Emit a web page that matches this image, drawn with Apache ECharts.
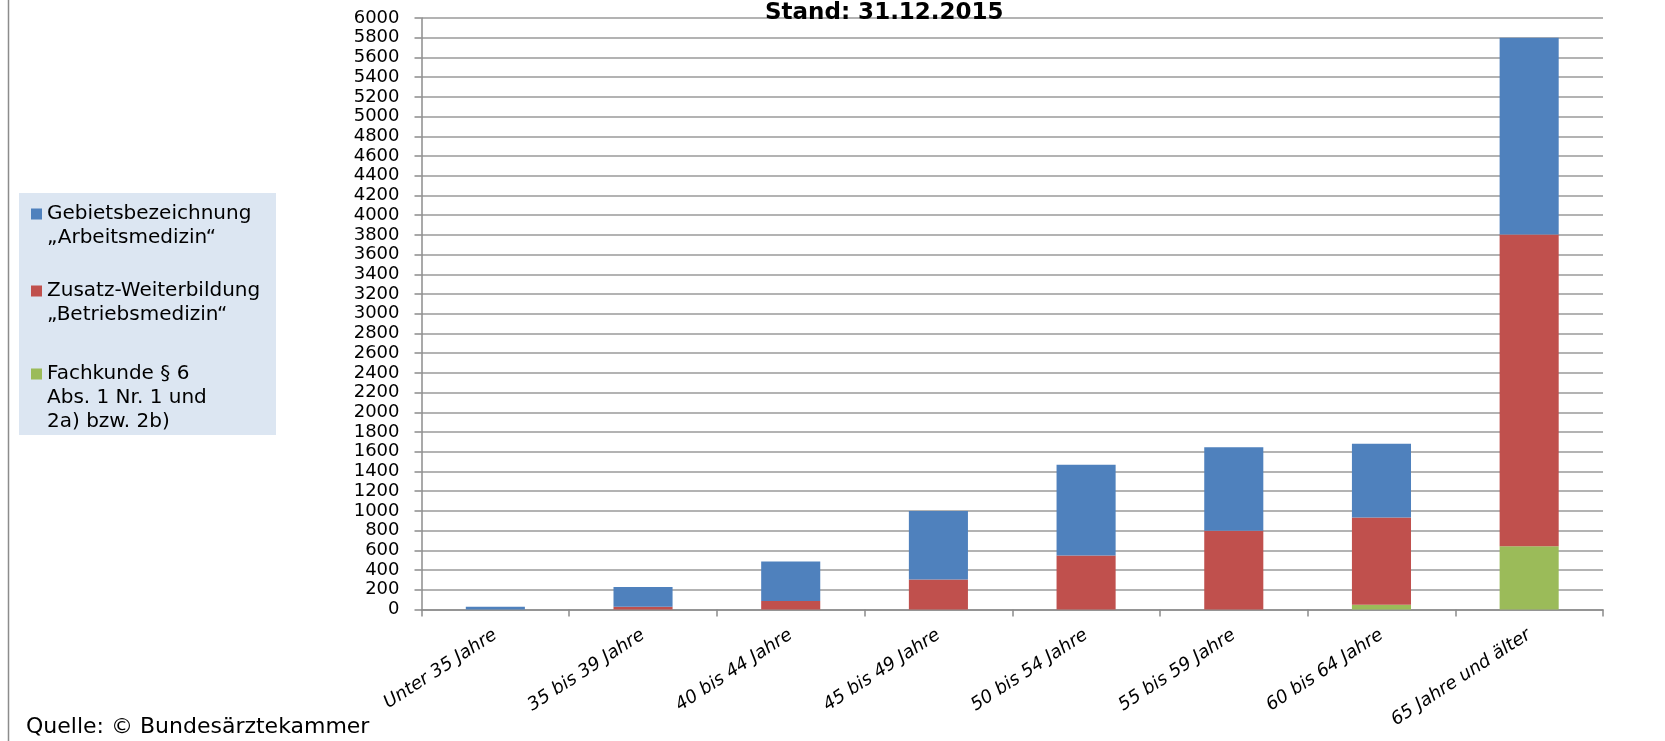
<!DOCTYPE html>
<html>
<head>
<meta charset="utf-8">
<script src="https://cdn.jsdelivr.net/npm/echarts@6/dist/echarts.min.js"></script>
<style>
html,body{margin:0;padding:0;background:#fff;}
#chart{width:1665px;height:741px;}
</style>
</head>
<body>
<div id="chart"></div>
<script>
var categories = ['Unter 35 Jahre','35 bis 39 Jahre','40 bis 44 Jahre','45 bis 49 Jahre','50 bis 54 Jahre','55 bis 59 Jahre','60 bis 64 Jahre','65 Jahre und älter'];
var fachkunde = [0, 0, 0, 0, 0, 0, 47, 642];
var zusatz = [0, 27, 85, 305, 548, 799, 887, 3163];
var gebiet = [27, 200, 403, 695, 921, 846, 748, 1995];
var seriesNames = ['Gebietsbezeichnung\n„Arbeitsmedizin“', 'Zusatz-Weiterbildung\n„Betriebsmedizin“', 'Fachkunde § 6\nAbs. 1 Nr. 1 und\n2a) bzw. 2b)'];
var yMin = 0, yMax = 6000, yStep = 200;

var FONT = 'DejaVu Sans';
var chart = echarts.init(document.getElementById('chart'));

function legendFor(name, top, prefix) {
  return {
    data: [name],
    orient: 'vertical',
    left: 31,
    top: top,
    padding: 0,
    itemWidth: 11,
    itemHeight: 11,
    icon: 'rect',
    selectedMode: false,
    formatter: function (n) { return prefix + n; },
    textStyle: { fontFamily: FONT, fontSize: 20, lineHeight: 24, color: '#000' }
  };
}

chart.setOption({
  animation: false,
  backgroundColor: '#fff',
  title: {
    text: 'Stand: 31.12.2015',
    left: 765,
    top: 2,
    padding: 0,
    textStyle: { fontFamily: FONT, fontSize: 23, fontWeight: 'bold', color: '#000' }
  },
  legend: [
    legendFor(seriesNames[0], 178, '\n'),
    legendFor(seriesNames[1], 255, '\n'),
    legendFor(seriesNames[2], 314, '\n\n')
  ],
  graphic: [
    { type: 'rect', z: -10, shape: { x: 19, y: 193, width: 257, height: 242 }, style: { fill: '#dce6f2' } },
    { type: 'line', z: 10, shape: { x1: 8.5, y1: 0, x2: 8.5, y2: 741 }, style: { stroke: '#8c8c8c', lineWidth: 1.5 } },
    { type: 'text', left: 26, top: 716, style: { text: 'Quelle: © Bundesärztekammer', fontFamily: FONT, fontSize: 22, fill: '#000' } }
  ],
  grid: { left: 421.5, right: 62, top: 18, bottom: 131.5, containLabel: false },
  xAxis: {
    type: 'category',
    data: categories,
    axisLine: { lineStyle: { color: '#8c8c8c', width: 1.5 } },
    axisTick: { show: true, length: 7, lineStyle: { color: '#8c8c8c', width: 1.5 } },
    axisLabel: {
      interval: 0,
      rotate: 33,
      margin: 24,
      fontFamily: FONT,
      fontSize: 18,
      fontStyle: 'italic',
      color: '#000'
    }
  },
  yAxis: {
    type: 'value',
    min: yMin,
    max: yMax,
    interval: yStep,
    axisLine: { show: true, lineStyle: { color: '#8c8c8c', width: 1.5 } },
    axisTick: { show: true, length: 7, lineStyle: { color: '#8c8c8c', width: 1.5 } },
    splitLine: { lineStyle: { color: '#9a9a9a', width: 1.5 } },
    axisLabel: { margin: 22, fontFamily: FONT, fontSize: 18, color: '#000', formatter: function (v) { return String(v); } }
  },
  series: [
    { name: seriesNames[2], type: 'bar', stack: 'a', barWidth: '40%', data: fachkunde, itemStyle: { color: '#9bbb59' } },
    { name: seriesNames[1], type: 'bar', stack: 'a', barWidth: '40%', data: zusatz, itemStyle: { color: '#c0504d' } },
    { name: seriesNames[0], type: 'bar', stack: 'a', barWidth: '40%', data: gebiet, itemStyle: { color: '#4f81bd' } }
  ]
});
</script>
</body>
</html>
